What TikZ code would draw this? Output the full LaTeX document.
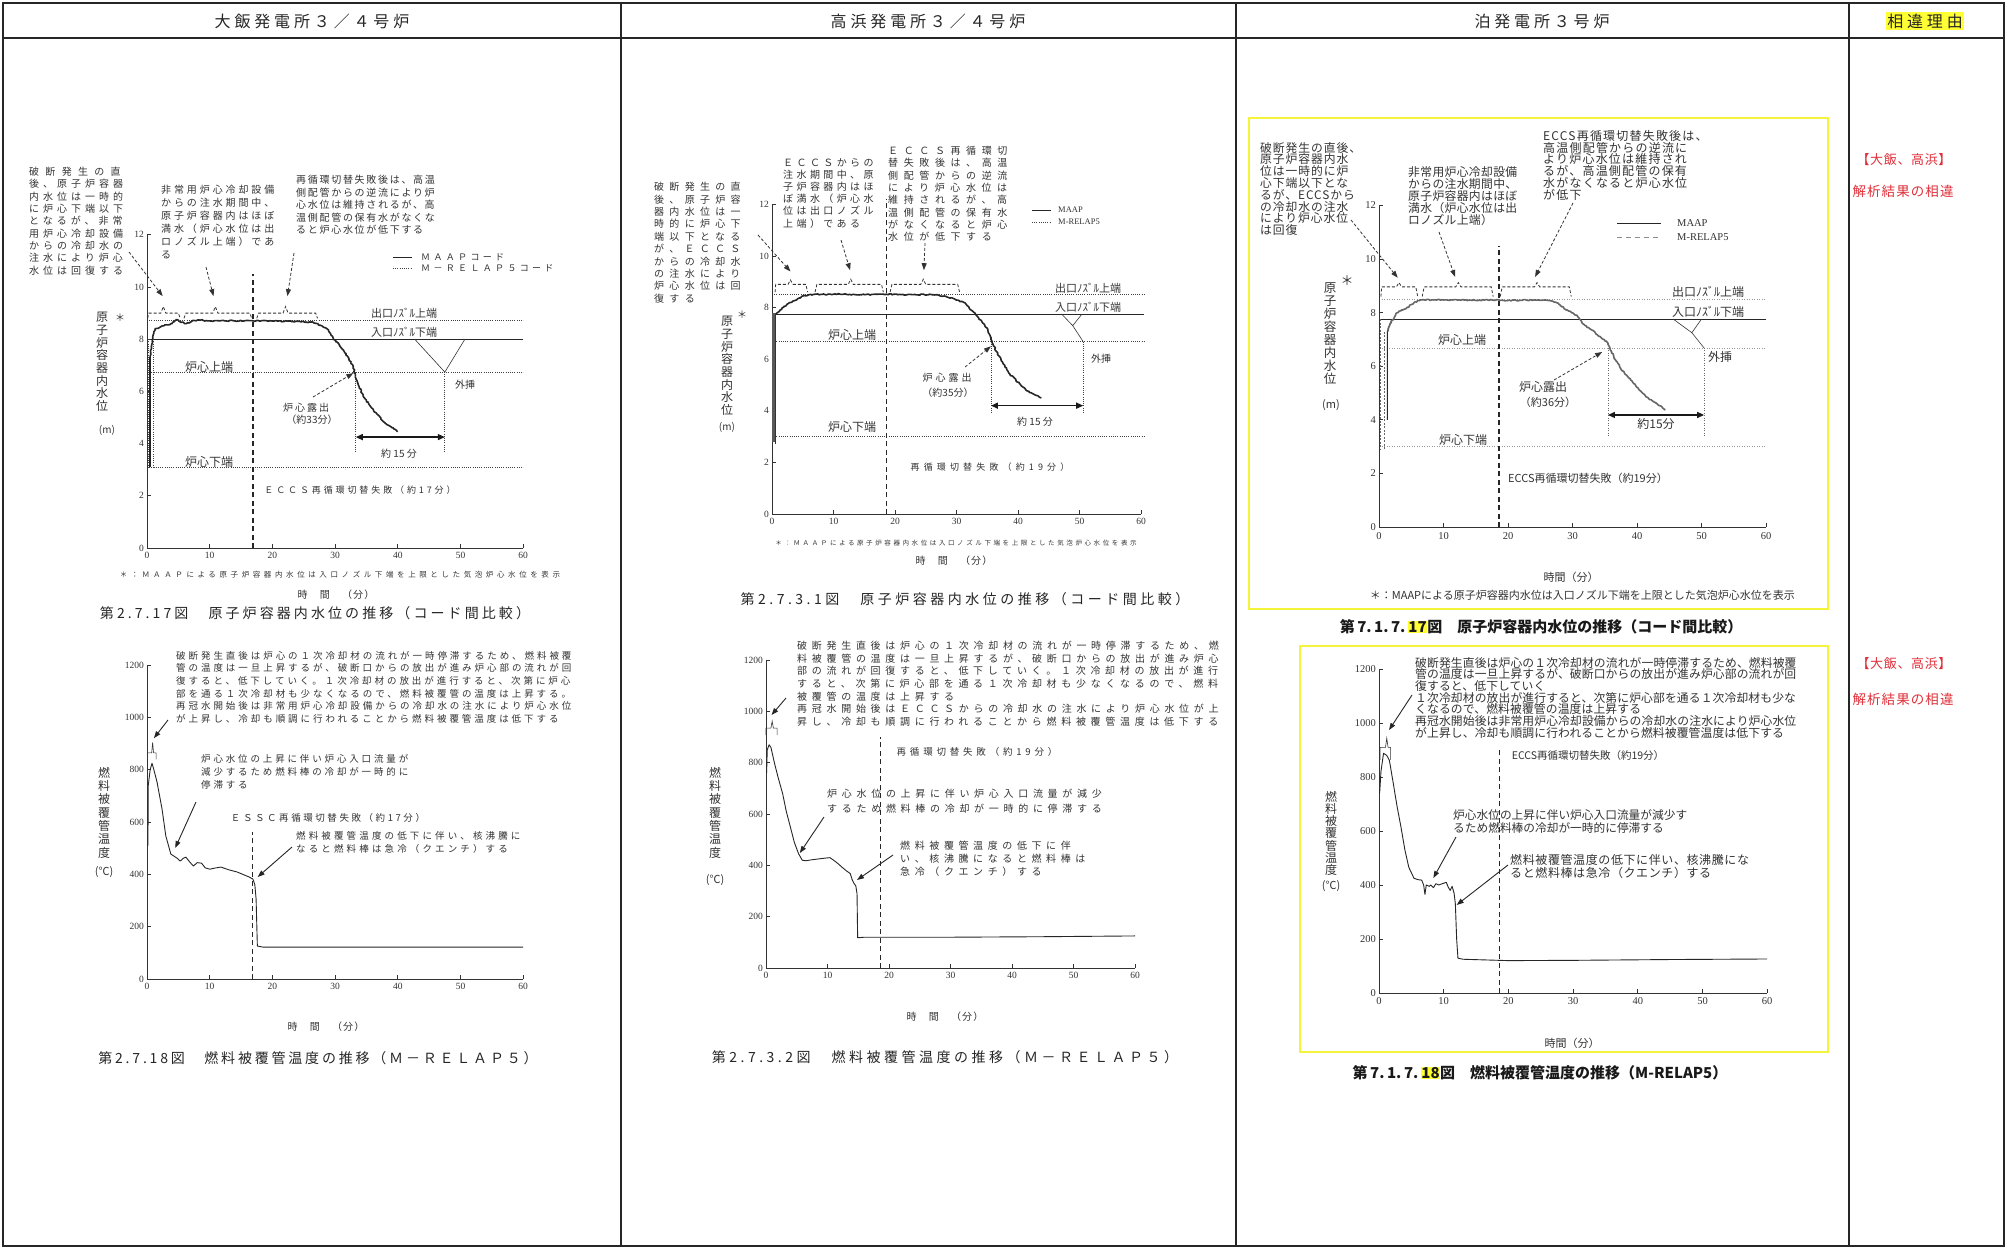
\documentclass[tikz,border=0pt]{standalone}
\usepackage{fontspec}
\setmainfont{Noto Sans CJK JP}
\newfontfamily\serif{Liberation Serif}
\usetikzlibrary{arrows.meta,decorations.pathmorphing}
\definecolor{ink}{HTML}{333333}
\definecolor{hl}{HTML}{FFFF33}
\definecolor{redt}{HTML}{E0303A}
\definecolor{ybc}{HTML}{F4F43A}
\newcommand\jf[3]{\fontsize{#1}{#2}\selectfont\addfontfeature{LetterSpace=#3}}
\newcommand\numf[1]{\serif\fontsize{#1}{#1}\selectfont}
\begin{document}
\pgfmathsetseed{7}
\begin{tikzpicture}[x=1pt,y=-1pt,
  every node/.style={inner sep=0pt, text=ink},
  tbl/.style={line width=1.6pt, draw=black!85},
  hdr/.style={font=\jf{16}{18}{24}, text=black!85},
  ax/.style={line width=0.8pt, draw=black!80},
  ref/.style={line width=0.8pt, draw=black!75, dash pattern=on 1pt off 1.2pt},
  refl/.style={line width=0.7pt, draw=black!40, dash pattern=on 1pt off 1.5pt},
  solidl/.style={line width=0.9pt, draw=black!85},
  brk/.style={line width=0.8pt, draw=black!80, dash pattern=on 3pt off 2pt},
  darr/.style={line width=0.8pt, draw=black!80, dash pattern=on 3pt off 2pt, -{Triangle[length=7pt,width=5pt]}},
  sarr/.style={line width=0.9pt, draw=black!85, -{Triangle[length=7pt,width=5pt]}},
  dbl/.style={line width=1.4pt, draw=black!90, {Triangle[length=7pt,width=6pt]}-{Triangle[length=7pt,width=6pt]}},
  vdash/.style={line width=1.1pt, draw=black!85, dash pattern=on 5pt off 3.5pt},
  noisy/.style={line width=1.6pt, draw=black!85, line join=round, decorate, decoration={random steps, segment length=1.5pt, amplitude=0.6pt}},
  tcurve/.style={line width=0.9pt, draw=black!85, line join=round},
  fine/.style={line width=0.6pt, draw=black!80},
  ybox/.style={line width=2.6pt, draw=ybc},
  tlab/.style={font=\numf{9.5}},
  tlab3/.style={font=\numf{10.5}},
  redn/.style={text=redt}
]
\fill[white] (0,0) rectangle (2007,1248);
\useasboundingbox (0,0) rectangle (2007,1248);

% ---------------- table ----------------
\draw[tbl] (3,3) rectangle (2004,1246);
\draw[tbl] (3,38) -- (2004,38);
\foreach \xx in {621,1236,1849} {\draw[tbl] (\xx,3) -- (\xx,1246);}
\node[hdr] (h1) at (312,21) {大飯発電所３／４号炉};
\node[hdr] (h2) at (928,21) {高浜発電所３／４号炉};
\node[hdr] (h3) at (1542,21) {泊発電所３号炉};
\node[hdr, fill=hl, inner sep=1.5pt] (h4) at (1925,21) {相違理由};

\node[redn, font=\jf{13}{13}{5}] (r1) at (1904,160) {【大飯、高浜】};
\node[redn, font=\jf{13.5}{13.5}{8}] (r2) at (1903,191) {解析結果の相違};
\node[redn, font=\jf{13}{13}{5}] (r3) at (1904,664) {【大飯、高浜】};
\node[redn, font=\jf{13.5}{13.5}{8}] (r4) at (1903,699) {解析結果の相違};

% ================= CHART 1 (Ohi level) =================
\node[anchor=north west, align=left, font=\jf{10}{12.3}{40}] (c1t1) at (29,167)
 {{\addfontfeature{LetterSpace=63}破断発生の直}\\後、原子炉容器\\内水位は一時的\\に炉心下端以下\\となるが、非常\\用炉心冷却設備\\からの冷却水の\\注水により炉心\\水位は回復する};
\node[anchor=north west, align=left, font=\jf{10}{13}{29}] (c1t2) at (161,185)
 {非常用炉心冷却設備\\からの注水期間中、\\原子炉容器内はほぼ\\満水（炉心水位は出\\ロノズル上端）であ\\る};
\node[anchor=north west, align=left, font=\jf{10}{12.5}{17}] (c1t3) at (296,175)
 {再循環切替失敗後は、高温\\側配管からの逆流により炉\\心水位は維持されるが、高\\温側配管の保有水がなくな\\ると炉心水位が低下する};
\draw[solidl] (393,257) -- (412,257);
\node[anchor=west, font=\jf{9}{9}{37}] (c1l1) at (421,257) {ＭＡＡＰコード};
\draw[ref] (393,268) -- (412,268);
\node[anchor=west, font=\jf{9}{9}{37}] (c1l2) at (421,268) {Ｍ－ＲＥＬＡＰ５コード};
\node[font=\jf{11}{11}{0}] (c1o) at (404,313) {出口ﾉｽﾞﾙ上端};
\node[font=\jf{11}{11}{0}] (c1i) at (404,332) {入口ﾉｽﾞﾙ下端};
\node[font=\jf{12}{12}{0}] (c1u) at (209,367) {炉心上端};
\node[font=\jf{12}{12}{0}] (c1d) at (209,462) {炉心下端};
\node[font=\jf{10}{10}{0}] (c1g) at (465,385) {外挿};
\node[font=\jf{10}{10}{20}] (c1e) at (306,408) {炉心露出};
\node[font=\jf{10}{10}{0}] (c1e2) at (312,420) {（約33分）};
\node[font=\jf{10}{10}{0}] (c1w) at (399,454) {約 15 分};
\node[font=\jf{9}{9}{32}] (c1f) at (360,490) {ＥＣＣＳ再循環切替失敗（約17分）};
\node[font=\jf{7.5}{7.5}{48}] (c1n) at (340,575) {＊：ＭＡＡＰによる原子炉容器内水位は入口ノズル下端を上限とした気泡炉心水位を表示};
\node[font=\jf{10}{10}{11}] (c1x) at (336,595) {時　間　（分）};
\node[font=\jf{14}{14}{22}, text=black!85] (c1c) at (315,613) {第2.7.17図　原子炉容器内水位の推移（コード間比較）};
\node[anchor=north, align=center, font=\jf{12}{12.7}{0}] (c1y) at (102,312) {原\\子\\炉\\容\\器\\内\\水\\位};
\node[font=\jf{10}{10}{0}] (c1ys) at (120,318) {＊};
\node[font=\jf{10}{10}{0}] (c1ym) at (107,430) {(m)};
\coordinate (c1s1) at (129,252);
\coordinate (c1s2) at (206,267);
\coordinate (c1s3) at (294,253);
\coordinate (c1s4) at (313,397);
\begin{scope}[shift={(147,548)}, x=6.27pt, y=26.1pt]
 \draw[ref] (0,8.73) -- (60,8.73);
 \draw[solidl] (0,8) -- (60,8);
 \draw[ref] (0,6.74) -- (60,6.74);
 \draw[ref] (0,3.1) -- (60,3.1);
 \draw[ax] (0,12) -- (0,0) -- (60,0);
 \foreach \v in {0,2,...,12} {\draw[ax] (0,\v) -- ++(4pt,0); \node[tlab,anchor=east] at ([xshift=-3pt]0,\v) {\v};}
 \foreach \t in {0,10,...,60} {\draw[ax] (\t,0) -- ++(0,4pt); \node[tlab,anchor=north] at ([yshift=-4pt]\t,0) {\t};}
 \draw[vdash] (16.9,0) -- (16.9,10.5);
 \draw[ref] (0.2,8) -- (0.2,3.1);
 \draw[ref] (1.0,8) -- (1.0,3.1);
 \draw[line width=1.8pt, draw=black!85] (0.5,3.1) -- (0.5,7.3);
 \draw[noisy] (0.5,7.3) -- (0.9,8.0) -- (1.3,8.4) -- (2.0,8.45) -- (3.1,8.55) -- (4.0,8.6) -- (4.7,8.75) -- (5.5,8.65) -- (6.3,8.6) -- (7.2,8.7) -- (8.5,8.73) -- (10,8.7) -- (12,8.72) -- (14,8.7) -- (16,8.72) -- (17,8.7) -- (20,8.7) -- (23,8.68) -- (26.5,8.65) -- (27.8,8.52) -- (28.7,8.4) -- (29.7,8.04) -- (31.3,7.59) -- (32.9,6.95) -- (33.4,6.44) -- (34.5,5.8) -- (36.1,5.29) -- (37.7,4.84) -- (40,4.46);
 \draw[brk] (0.1,8.8) -- (0.3,9.0) -- (2.2,9.0) -- (2.6,9.25) -- (3.0,9.0) -- (5.0,9.0) -- (5.3,8.8);
 \draw[brk] (5.9,8.8) -- (6.2,9.0) -- (10.5,9.0) -- (10.9,9.25) -- (11.3,9.0) -- (16.4,9.0) -- (16.7,8.8);
 \draw[brk] (17.5,8.8) -- (17.8,9.0) -- (21.7,9.0) -- (22.1,9.25) -- (22.5,9.0) -- (26.9,9.0) -- (27.2,8.8);
 \draw[fine] (42.7,8) -- (47.5,6.74) -- (50.7,8);
 \draw[ref] (33.3,6.74) -- (33.3,3.68);
 \draw[ref] (47.5,6.74) -- (47.5,3.68);
 \draw[dbl] (33.3,4.25) -- (47.5,4.25);
 \coordinate (c1e1) at (2.5,9.65);
 \coordinate (c1e2p) at (10.6,9.65);
 \coordinate (c1e3) at (22.4,9.65);
 \coordinate (c1e4) at (32.9,6.7);
\end{scope}
\draw[darr] (c1s1) -- (c1e1);
\draw[darr] (c1s2) -- (c1e2p);
\draw[darr] (c1s3) -- (c1e3);
\draw[darr] (c1s4) -- (c1e4);

% ================= CHART 2 (Takahama level) =================
\node[anchor=north west, align=left, font=\jf{10}{12.4}{53}] (c2t1) at (654,182)
 {破断発生の直\\後、原子炉容\\器内水位は一\\時的に炉心下\\端以下となる\\が、ＥＣＣＳ\\からの冷却水\\の注水により\\炉心水位は回\\復する};
\node[anchor=north west, align=left, font=\jf{10}{12.2}{34}] (c2t2) at (783,158)
 {ＥＣＣＳからの\\注水期間中、原\\子炉容器内はほ\\ぼ満水（炉心水\\位は出口ノズル\\上端）である};
\node[anchor=north west, align=left, font=\jf{10}{12.3}{56}] (c2t3) at (888,146)
 {ＥＣＣＳ再循環切\\替失敗後は、高温\\側配管からの逆流\\により炉心水位は\\維持されるが、高\\温側配管の保有水\\がなくなると炉心\\水位が低下する};
\draw[solidl] (1032,210) -- (1051,210);
\node[anchor=west, font=\numf{8.5}] (c2l1) at (1058,210) {MAAP};
\draw[ref] (1032,222) -- (1051,222);
\node[anchor=west, font=\numf{8.5}] (c2l2) at (1058,222) {M-RELAP5};
\node[font=\jf{11}{11}{0}] (c2o) at (1088,288) {出口ﾉｽﾞﾙ上端};
\node[font=\jf{11}{11}{0}] (c2i) at (1088,307) {入口ﾉｽﾞﾙ下端};
\node[font=\jf{12}{12}{0}] (c2u) at (852,335) {炉心上端};
\node[font=\jf{12}{12}{0}] (c2d) at (852,427) {炉心下端};
\node[font=\jf{10}{10}{0}] (c2g) at (1101,359) {外挿};
\node[font=\jf{10}{10}{30}] (c2e) at (947,378) {炉心露出};
\node[font=\jf{10}{10}{0}] (c2e2) at (948,393) {（約35分）};
\node[font=\jf{10}{10}{0}] (c2w) at (1035,422) {約 15 分};
\node[font=\jf{9}{9}{46}] (c2f) at (990,467) {再循環切替失敗（約19分）};
\node[font=\jf{6.5}{6.5}{40}] (c2n) at (956,543) {＊：ＭＡＡＰによる原子炉容器内水位は入口ノズル下端を上限とした気泡炉心水位を表示};
\node[font=\jf{10}{10}{11}] (c2x) at (954,561) {時　間　（分）};
\node[font=\jf{14}{14}{25}, text=black!85] (c2c) at (965,599) {第2.7.3.1図　原子炉容器内水位の推移（コード間比較）};
\node[anchor=north, align=center, font=\jf{12}{12.7}{0}] (c2y) at (727,316) {原\\子\\炉\\容\\器\\内\\水\\位};
\node[font=\jf{10}{10}{0}] (c2ys) at (742,315) {＊};
\node[font=\jf{10}{10}{0}] (c2ym) at (727,427) {(m)};
\coordinate (c2s1) at (758,235);
\coordinate (c2s2) at (841,240);
\coordinate (c2s3) at (925,243);
\coordinate (c2s4) at (965,367);
\begin{scope}[shift={(772,514)}, x=6.15pt, y=25.8pt]
 \draw[ref] (0,8.5) -- (60.5,8.5);
 \draw[solidl] (0,7.75) -- (60.5,7.75);
 \draw[ref] (0,6.68) -- (60.5,6.68);
 \draw[ref] (0,3.0) -- (60.5,3.0);
 \draw[ax] (0,12) -- (0,0) -- (60,0);
 \foreach \v in {0,2,...,12} {\draw[ax] (0,\v) -- ++(4pt,0); \node[tlab,anchor=east] at ([xshift=-3pt]0,\v) {\v};}
 \foreach \t in {0,10,...,60} {\draw[ax] (\t,0) -- ++(0,4pt); \node[tlab,anchor=north] at ([yshift=-4pt]\t,0) {\t};}
 \draw[vdash] (18.6,0) -- (18.6,12.2);
 \draw[line width=2.2pt, draw=black!65] (0.25,2.8) -- (0.25,7.8);
 \draw[fine] (0.6,2.7) -- (0.6,7.75);
 \draw[noisy] (0.6,7.75) -- (1.2,7.85) -- (2.0,8.05) -- (3.0,8.2) -- (4.0,8.3) -- (5.0,8.45) -- (6.0,8.5) -- (10,8.52) -- (15,8.5) -- (18.6,8.52) -- (22,8.5) -- (26,8.5) -- (28,8.45) -- (29.5,8.35) -- (31.2,8.2) -- (33.4,7.66) -- (35.0,7.2) -- (35.9,6.6) -- (36.5,6.3) -- (38.5,5.46) -- (41.3,4.8) -- (43.8,4.5);
 \draw[brk] (0.5,8.6) -- (0.6,8.9) -- (2.6,8.9) -- (3.0,9.07) -- (3.4,8.9) -- (5.5,8.9) -- (5.8,8.6);
 \draw[brk] (7.0,8.6) -- (7.3,8.9) -- (12.4,8.9) -- (12.8,9.1) -- (13.2,8.9) -- (17.8,8.9) -- (18.1,8.6);
 \draw[brk] (19.2,8.6) -- (19.5,8.9) -- (24.2,8.9) -- (24.6,9.1) -- (25.0,8.9) -- (30.2,8.9) -- (30.5,8.6);
 \draw[fine] (47.1,7.75) -- (48.9,7.3) -- (50.4,7.75);
 \draw[fine] (48.9,7.3) -- (50.6,6.68);
 \draw[ref] (35.6,6.68) -- (35.6,3.9);
 \draw[ref] (50.6,6.68) -- (50.6,3.9);
 \draw[dbl] (35.6,4.2) -- (50.6,4.2);
 \coordinate (c2e1) at (3.0,9.4);
 \coordinate (c2e2p) at (12.7,9.45);
 \coordinate (c2e3) at (24.7,9.45);
 \coordinate (c2e4) at (35.6,6.5);
\end{scope}
\draw[darr] (c2s1) -- (c2e1);
\draw[darr] (c2s2) -- (c2e2p);
\draw[darr] (c2s3) -- (c2e3);
\draw[darr] (c2s4) -- (c2e4);

% ================= CHART 3 (Tomari level) =================
\draw[ybox] (1249,118) rectangle (1828,609);
\node[anchor=north west, align=left, font=\jf{11.8}{11.8}{8}] (c3t1) at (1260,142)
 {破断発生の直後、\\原子炉容器内水\\位は一時的に炉\\心下端以下とな\\るが、ECCSから\\の冷却水の注水\\により炉心水位\\は回復};
\node[anchor=north west, align=left, font=\jf{11.8}{12}{3}] (c3t2) at (1408,166)
 {非常用炉心冷却設備\\からの注水期間中、\\原子炉容器内はほぼ\\満水（炉心水位は出\\ロノズル上端）};
\node[anchor=north west, align=left, font=\jf{12}{11.8}{10}] (c3t3) at (1543,130)
 {ECCS再循環切替失敗後は、\\高温側配管からの逆流に\\より炉心水位は維持され\\るが、高温側配管の保有\\水がなくなると炉心水位\\が低下};
\draw[solidl] (1617,223) -- (1661,223);
\node[anchor=west, font=\numf{10.5}] (c3l1) at (1677,223) {MAAP};
\draw[line width=0.8pt, draw=black!45, dash pattern=on 5pt off 4pt] (1617,237) -- (1661,237);
\node[anchor=west, font=\numf{10.5}] (c3l2) at (1677,237) {M-RELAP5};
\node[font=\jf{12}{12}{0}] (c3o) at (1708,292) {出口ﾉｽﾞﾙ上端};
\node[font=\jf{12}{12}{0}] (c3i) at (1708,312) {入口ﾉｽﾞﾙ下端};
\node[font=\jf{12}{12}{0}] (c3u) at (1462,340) {炉心上端};
\node[font=\jf{12}{12}{0}] (c3d) at (1463,440) {炉心下端};
\node[font=\jf{12}{12}{0}] (c3g) at (1720,357) {外挿};
\node[font=\jf{12}{12}{0}] (c3e) at (1543,387) {炉心露出};
\node[font=\jf{11}{11}{0}] (c3e2) at (1548,402) {（約36分）};
\node[font=\jf{12}{12}{0}] (c3w) at (1656,424) {約15分};
\node[font=\jf{11}{11}{0}] (c3f) at (1588,478) {ECCS再循環切替失敗（約19分）};
\node[anchor=east, font=\jf{11}{11}{0}] (c3n) at (1795,595) {＊：MAAPによる原子炉容器内水位は入口ノズル下端を上限とした気泡炉心水位を表示};
\node[font=\jf{11}{11}{0}] (c3x) at (1571,577) {時間（分）};
\node[font=\jf{15}{15}{0}\bfseries, text=black!90] (c3c) at (1541,627) {第\,7.\,1.\,7.\,{\fboxsep=0.5pt\colorbox{hl}{17}}図　原子炉容器内水位の推移（コード間比較）};
\node[anchor=north, align=center, font=\jf{12.5}{13.1}{0}] (c3y) at (1330,282) {原\\子\\炉\\容\\器\\内\\水\\位};
\node[font=\jf{13}{13}{0}] (c3ys) at (1347,281) {＊};
\node[font=\jf{11}{11}{0}] (c3ym) at (1331,405) {(m)};
\coordinate (c3s1) at (1351,220);
\coordinate (c3s2) at (1439,232);
\coordinate (c3s3) at (1573,203);
\coordinate (c3s4) at (1554,380);
\begin{scope}[shift={(1379,527)}, x=6.45pt, y=26.8pt]
 \draw[refl] (0,8.5) -- (60,8.5);
 \draw[solidl] (0,7.76) -- (60,7.76);
 \draw[refl] (0,6.68) -- (60,6.68);
 \draw[refl] (0,3.0) -- (60,3.0);
 \draw[ax] (0,12) -- (0,0) -- (60,0);
 \foreach \v in {0,2,...,12} {\draw[ax] (0,\v) -- ++(4pt,0); \node[tlab3,anchor=east] at ([xshift=-3pt]0,\v) {\v};}
 \foreach \t in {0,10,...,60} {\draw[ax] (\t,0) -- ++(0,4pt); \node[tlab3,anchor=north] at ([yshift=-5pt]\t,0) {\t};}
 \draw[vdash] (18.6,0) -- (18.6,10.5);
 \draw[line width=0.7pt, draw=black!60, dash pattern=on 2pt off 1.5pt] (0.25,7.76) -- (0.25,2.9);
 \draw[line width=0.7pt, draw=black!60, dash pattern=on 2pt off 1.5pt] (0.9,2.9) -- (0.9,7.3);
 \draw[solidl] (1.3,4.0) -- (1.3,7.3) -- (2.0,7.76);
 \draw[noisy, draw=black!60] (1.3,7.3) -- (1.8,7.6) -- (2.6,7.95) -- (3.5,8.1) -- (4.2,8.15) -- (5.0,8.3) -- (6.0,8.45) -- (7,8.48) -- (10,8.47) -- (14,8.47) -- (18.6,8.47) -- (20,8.45) -- (24,8.47) -- (26.5,8.45) -- (27.8,8.35) -- (29.0,8.1) -- (30.7,7.9) -- (31.5,7.6) -- (33,7.35) -- (34.5,7.05) -- (35.5,6.86) -- (36.4,6.35) -- (37.5,5.9) -- (39,5.49) -- (41.4,4.86) -- (44.4,4.37);
 \draw[brk] (0.3,8.6) -- (0.4,8.96) -- (2.7,8.96) -- (3.1,9.12) -- (3.5,8.96) -- (5.7,8.96) -- (6.0,8.6);
 \draw[brk] (6.7,8.6) -- (7.0,8.96) -- (11.9,8.96) -- (12.3,9.12) -- (12.7,8.96) -- (17.4,8.96) -- (17.7,8.6);
 \draw[brk] (18.8,8.6) -- (19.1,8.96) -- (24.1,8.96) -- (24.5,9.12) -- (24.9,8.96) -- (29.5,8.96) -- (29.8,8.6);
 \draw[fine] (45.6,7.76) -- (48.5,7.25) -- (50.0,7.76);
 \draw[fine] (48.5,7.25) -- (50.4,6.68);
 \draw[refl, draw=black!60] (35.5,6.68) -- (35.5,3.4);
 \draw[refl, draw=black!60] (50.4,6.68) -- (50.4,3.4);
 \draw[dbl] (35.5,4.18) -- (50.4,4.18);
 \coordinate (c3e1) at (2.9,9.3);
 \coordinate (c3e2p) at (11.8,9.33);
 \coordinate (c3e3) at (24.2,9.33);
 \coordinate (c3e4) at (34.6,6.53);
\end{scope}
\draw[darr] (c3s1) -- (c3e1);
\draw[darr] (c3s2) -- (c3e2p);
\draw[darr] (c3s3) -- (c3e3);
\draw[darr] (c3s4) -- (c3e4);

% ================= CHART 4 (Ohi temperature) =================
\node[anchor=north west, align=left, font=\jf{9.5}{12.6}{31}] (c4t1) at (176,651)
 {破断発生直後は炉心の１次冷却材の流れが一時停滞するため、燃料被覆\\管の温度は一旦上昇するが、破断口からの放出が進み炉心部の流れが回\\復すると、低下していく。１次冷却材の放出が進行すると、次第に炉心\\部を通る１次冷却材も少なくなるので、燃料被覆管の温度は上昇する。\\再冠水開始後は非常用炉心冷却設備からの冷却水の注水により炉心水位\\が上昇し、冷却も順調に行われることから燃料被覆管温度は低下する};
\node[anchor=north west, align=left, font=\jf{9.5}{13}{30}] (c4t2) at (201,754)
 {炉心水位の上昇に伴い炉心入口流量が\\減少するため燃料棒の冷却が一時的に\\停滞する};
\node[font=\jf{9.5}{9.5}{27}] (c4t3) at (328,818) {ＥＳＳＣ再循環切替失敗（約17分）};
\node[anchor=north west, align=left, font=\jf{9.5}{13}{33}] (c4t4) at (296,831)
 {燃料被覆管温度の低下に伴い、核沸騰に\\なると燃料棒は急冷（クエンチ）する};
\node[anchor=north, align=center, font=\jf{12}{13.3}{0}] (c4y) at (104,767) {燃\\料\\被\\覆\\管\\温\\度};
\node[font=\jf{11}{11}{0}] (c4ym) at (104,872) {(℃)};
\node[font=\jf{10}{10}{11}] (c4x) at (326,1027) {時　間　（分）};
\node[font=\jf{14}{14}{20}, text=black!85] (c4c) at (318,1058) {第2.7.18図　燃料被覆管温度の推移（Ｍ－ＲＥＬＡＰ５）};
\coordinate (c4s1) at (168,720);
\coordinate (c4s2) at (196,802);
\coordinate (c4s3) at (292,847);
\begin{scope}[shift={(147,979)}, x=6.27pt, y=0.2615pt]
 \draw[ax] (0,1200) -- (0,0) -- (60,0);
 \foreach \v in {0,200,...,1200} {\draw[ax] (0,\v) -- ++(4pt,0); \node[tlab,anchor=east] at ([xshift=-3pt]0,\v) {\v};}
 \foreach \t in {0,10,...,60} {\draw[ax] (\t,0) -- ++(0,4pt); \node[tlab,anchor=north] at ([yshift=-4pt]\t,0) {\t};}
 \draw[vdash] (16.8,0) -- (16.8,562);
 \draw[fine] (0,865) -- (0.75,865) -- (0.9,905) -- (1.05,865) -- (1.45,865) -- (1.45,840);
 \draw[fine] (0,865) -- (0,840);
 \draw[tcurve] (0.15,510) -- (0.2,740) -- (0.5,800) -- (0.8,825) -- (1.1,800) -- (1.6,753) -- (2.4,650) -- (3.0,547) -- (3.8,478) -- (4.3,470) -- (4.8,462) -- (5.3,451) -- (5.8,462) -- (6.2,466) -- (6.8,448) -- (7.4,432) -- (8.0,445) -- (8.7,443) -- (9.3,425) -- (10,420) -- (11,425) -- (11.8,428) -- (13,418) -- (14.4,409) -- (15.5,398) -- (16.3,390) -- (16.9,382) -- (17.2,360) -- (17.4,306) -- (17.6,126) -- (18.5,122) -- (30,122) -- (45,122) -- (60,122);
 \coordinate (c4e1) at (1.1,921);
 \coordinate (c4e2) at (4.5,501);
 \coordinate (c4e3) at (17.65,390);
\end{scope}
\draw[sarr] (c4s1) -- (c4e1);
\draw[sarr] (c4s2) -- (c4e2);
\draw[sarr] (c4s3) -- (c4e3);

% ================= CHART 5 (Takahama temperature) =================
\node[anchor=north west, align=left, font=\jf{10}{12.6}{47}] (c5t1) at (797,641)
 {破断発生直後は炉心の１次冷却材の流れが一時停滞するため、燃\\料被覆管の温度は一旦上昇するが、破断口からの放出が進み炉心\\部の流れが回復すると、低下していく。１次冷却材の放出が進行\\すると、次第に炉心部を通る１次冷却材も少なくなるので、燃料\\被覆管の温度は上昇する\\再冠水開始後はＥＣＣＳからの冷却水の注水により炉心水位が上\\昇し、冷却も順調に行われることから燃料被覆管温度は低下する};
\node[font=\jf{9.5}{9.5}{40}] (c5t2) at (977,752) {再循環切替失敗（約19分）};
\node[anchor=north west, align=left, font=\jf{10}{15}{47}] (c5t3) at (827,789)
 {炉心水位の上昇に伴い炉心入口流量が減少\\するため燃料棒の冷却が一時的に停滞する};
\node[anchor=north west, align=left, font=\jf{10}{13}{46}] (c5t4) at (900,841)
 {燃料被覆管温度の低下に伴\\い、核沸騰になると燃料棒は\\急冷（クエンチ）する};
\node[anchor=north, align=center, font=\jf{12}{13.3}{0}] (c5y) at (715,767) {燃\\料\\被\\覆\\管\\温\\度};
\node[font=\jf{11}{11}{0}] (c5ym) at (715,880) {(℃)};
\node[font=\jf{10}{10}{11}] (c5x) at (945,1017) {時　間　（分）};
\node[font=\jf{14}{14}{25}, text=black!85] (c5c) at (945,1057) {第2.7.3.2図　燃料被覆管温度の推移（Ｍ－ＲＥＬＡＰ５）};
\coordinate (c5s1) at (786,698);
\coordinate (c5s2) at (824,817);
\coordinate (c5s3) at (893,855);
\begin{scope}[shift={(766,968)}, x=6.15pt, y=0.2566pt]
 \draw[ax] (0,1200) -- (0,0) -- (60,0);
 \foreach \v in {0,200,...,1200} {\draw[ax] (0,\v) -- ++(4pt,0); \node[tlab,anchor=east] at ([xshift=-3pt]0,\v) {\v};}
 \foreach \t in {0,10,...,60} {\draw[ax] (\t,0) -- ++(0,4pt); \node[tlab,anchor=north] at ([yshift=-4pt]\t,0) {\t};}
 \draw[vdash] (18.6,0) -- (18.6,900);
 \draw[fine] (0,908) -- (0,935) -- (0.8,935) -- (1.0,962) -- (1.2,935) -- (1.8,935) -- (1.8,908);
 \draw[tcurve] (0.1,760) -- (0.2,850) -- (0.5,870) -- (0.8,860) -- (1.4,796) -- (2.0,740) -- (2.7,680) -- (3.3,610) -- (4.0,546) -- (4.6,490) -- (5.3,445) -- (5.9,420) -- (6.5,418) -- (7.5,422) -- (8.5,425) -- (9.5,428) -- (10.4,430) -- (11.0,420) -- (11.8,405) -- (12.4,392) -- (13.0,380) -- (13.7,368) -- (14.0,345) -- (14.3,330) -- (14.6,320) -- (14.8,290) -- (14.9,118) -- (16,120) -- (30,120) -- (45,122) -- (60,125);
 \coordinate (c5e1) at (0.9,986);
 \coordinate (c5e2) at (5.5,448);
 \coordinate (c5e3) at (14.8,343);
\end{scope}
\draw[sarr] (c5s1) -- (c5e1);
\draw[sarr] (c5s2) -- (c5e2);
\draw[sarr] (c5s3) -- (c5e3);

% ================= CHART 6 (Tomari temperature) =================
\draw[ybox] (1300,646) rectangle (1828,1052);
\node[anchor=north west, align=left, font=\jf{11.8}{11.7}{1}] (c6t1) at (1415,657)
 {破断発生直後は炉心の１次冷却材の流れが一時停滞するため、燃料被覆\\管の温度は一旦上昇するが、破断口からの放出が進み炉心部の流れが回\\復すると、低下していく\\１次冷却材の放出が進行すると、次第に炉心部を通る１次冷却材も少な\\くなるので、燃料被覆管の温度は上昇する\\再冠水開始後は非常用炉心冷却設備からの冷却水の注水により炉心水位\\が上昇し、冷却も順調に行われることから燃料被覆管温度は低下する};
\node[font=\jf{10.5}{10.5}{0}] (c6t2) at (1588,755) {ECCS再循環切替失敗（約19分）};
\node[anchor=north west, align=left, font=\jf{11.7}{13}{0}] (c6t3) at (1453,809)
 {炉心水位の上昇に伴い炉心入口流量が減少す\\るため燃料棒の冷却が一時的に停滞する};
\node[anchor=north west, align=left, font=\jf{12}{13}{5}] (c6t4) at (1510,854)
 {燃料被覆管温度の低下に伴い、核沸騰にな\\ると燃料棒は急冷（クエンチ）する};
\node[anchor=north, align=center, font=\jf{12}{12.2}{0}] (c6y) at (1331,791) {燃\\料\\被\\覆\\管\\温\\度};
\node[font=\jf{11}{11}{0}] (c6ym) at (1331,886) {(℃)};
\node[font=\jf{11}{11}{0}] (c6x) at (1572,1043) {時間（分）};
\node[font=\jf{15}{15}{0}\bfseries, text=black!90] (c6c) at (1540,1073) {第\,7.\,1.\,7.\,{\fboxsep=0.5pt\colorbox{hl}{18}}図　燃料被覆管温度の推移（M-RELAP5）};
\coordinate (c6s1) at (1412,695);
\coordinate (c6s2) at (1456,837);
\coordinate (c6s3) at (1508,865);
\begin{scope}[shift={(1379,993)}, x=6.47pt, y=0.27pt]
 \draw[ax] (0,1200) -- (0,0) -- (60,0);
 \foreach \v in {0,200,...,1200} {\draw[ax] (0,\v) -- ++(4pt,0); \node[tlab3,anchor=east] at ([xshift=-3pt]0,\v) {\v};}
 \foreach \t in {0,10,...,60} {\draw[ax] (\t,0) -- ++(0,4pt); \node[tlab3,anchor=north] at ([yshift=-4pt]\t,0) {\t};}
 \draw[vdash] (18.6,0) -- (18.6,907);
 \draw[fine] (0.15,863) -- (0.15,910) -- (1.0,910) -- (1.2,944) -- (1.4,910) -- (1.8,910) -- (1.8,863);
 \draw[tcurve] (0.1,740) -- (0.3,820) -- (0.7,888) -- (1.2,880) -- (1.6,862) -- (2.2,777) -- (2.8,690) -- (3.4,614) -- (4.0,530) -- (4.6,466) -- (5.4,425) -- (6.0,420) -- (6.6,418) -- (6.9,400) -- (7.1,365) -- (7.3,400) -- (7.8,395) -- (8.0,400) -- (8.4,390) -- (8.8,405) -- (9.2,400) -- (9.8,405) -- (10.4,410) -- (10.7,392) -- (11.0,380) -- (11.3,395) -- (11.6,370) -- (11.8,330) -- (12.0,200) -- (12.2,129) -- (13,125) -- (20,120) -- (30,121) -- (45,124) -- (60,126);
 \coordinate (c6e1) at (1.55,974);
 \coordinate (c6e2) at (8.4,426);
 \coordinate (c6e3) at (12.0,326);
\end{scope}
\draw[sarr] (c6s1) -- (c6e1);
\draw[sarr] (c6s2) -- (c6e2);
\draw[sarr] (c6s3) -- (c6e3);
\end{tikzpicture}
\end{document}
